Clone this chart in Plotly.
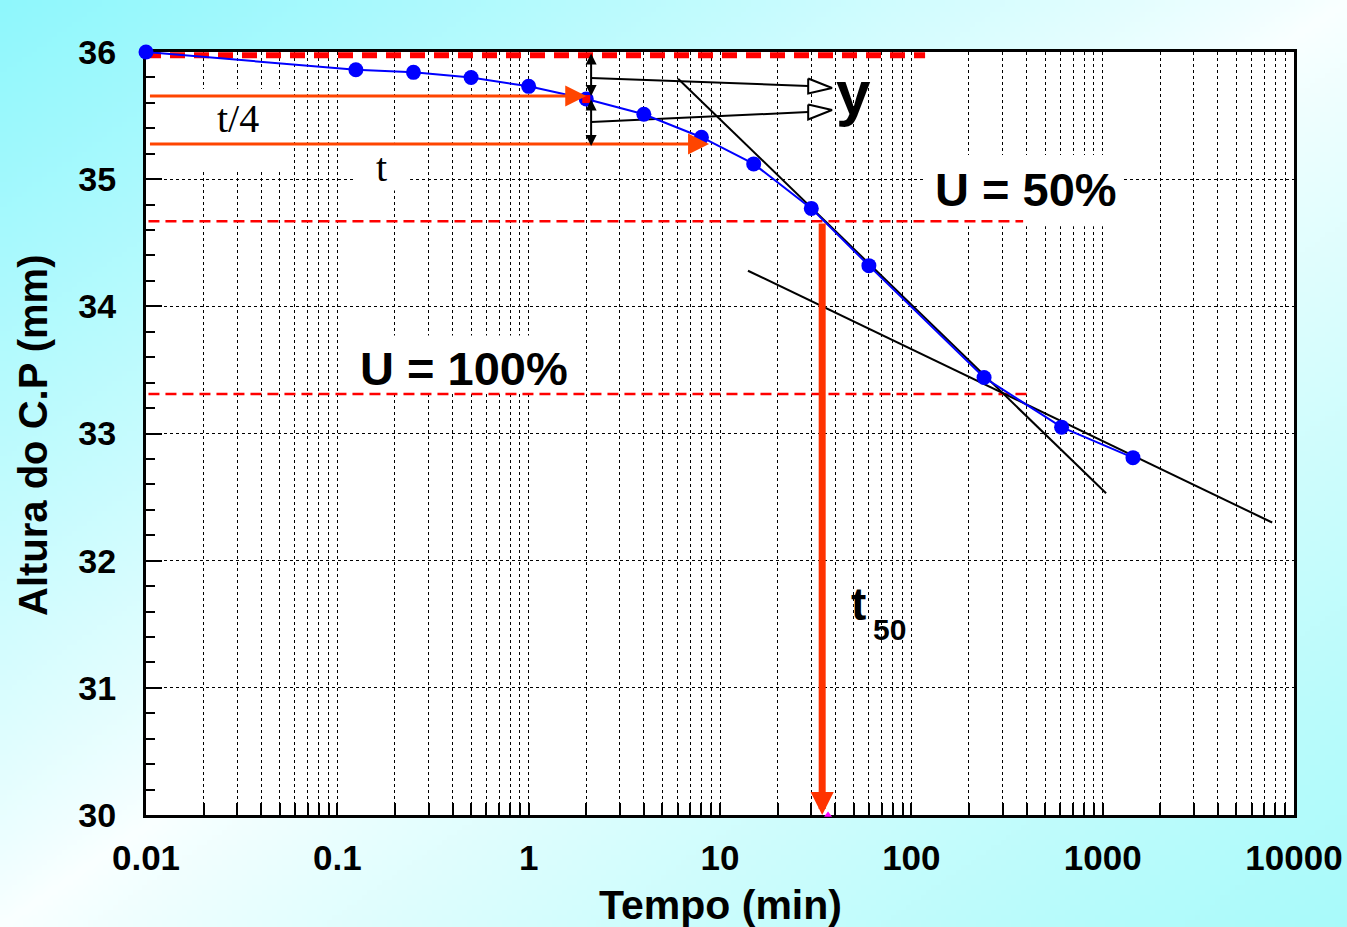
import math, zlib, struct, base64
import plotly.graph_objects as go

# ---------------- data ----------------
tempo_min = [0.01, 0.125, 0.25, 0.5, 1, 2, 4, 8, 15, 30, 60, 240, 610, 1440]
altura_mm = [36.0, 35.86, 35.84, 35.80, 35.73, 35.63, 35.51, 35.33, 35.12, 34.77, 34.32, 33.44, 33.05, 32.81]

x_tickvals = [m * 10 ** k for k in range(-2, 4) for m in range(1, 10)] + [10000]
x_ticktext = ["0.01" if v == 0.01 else "0.1" if v == 0.1 else str(int(v)) if v in (1, 10, 100, 1000, 10000) else ""
              for v in x_tickvals]
y_tickvals = [30, 31, 32, 33, 34, 35, 36]
y_ticktext = ["30", "31", "32", "33", "34", "35", "36"]

# construction lines
u0_x, u0_y = [0.01, 118], [35.975, 35.975]
u50_x, u50_y = [0.0103, 384], [34.67, 34.67]
u100_x, u100_y = [0.0103, 418], [33.31, 33.31]
tan1_x, tan1_y = [6.04, 1042], [35.79, 32.53]
tan2_x, tan2_y = [14.0, 7690], [34.28, 32.30]
yarrow1_x, yarrow1_y = [2.12, 28.9], [35.796, 35.733]
yarrow2_x, yarrow2_y = [2.12, 28.9], [35.45, 35.528]
head1_x, head1_y = [28.9, 28.9, 38.5, 28.9], [35.792, 35.674, 35.717, 35.792]
head2_x, head2_y = [28.9, 28.9, 38.5, 28.9], [35.587, 35.469, 35.544, 35.587]
t4_tail, t4_head, t4_h = 0.0103, 2.0, 35.654
t_tail, t_head, t_h = 0.0103, 8.77, 35.277
t50_x, t50_top, t50_bot = 34.2, 34.663, 30.0
dbl_x = 2.12
dbl1 = (36.0, 35.654)
dbl2 = (35.638, 35.26)

# white label boxes (x0, x1, y0, y1)
boxes = [(0.0118, 0.0533, 35.072, 35.709),
         (0.125, 0.240, 34.91, 35.29),
         (118, 1265, 34.63, 35.19),
         (0.1096, 1.90, 33.33, 33.77)]

# ---------------- background gradient ----------------
def gradient_png(w, h):
    cyan_tl = (143, 247, 252)
    cyan_br = (168, 250, 250)
    white = (250, 255, 255)
    rows = []
    for j in range(h):
        row = bytearray([0])
        for i in range(w):
            d = (i / (w - 1) + j / (h - 1)) / 2
            t = min(1.0, abs(d - 0.5) * 2) ** 0.85
            c = cyan_tl if d < 0.5 else cyan_br
            row += bytes(int(round(white[k] * (1 - t) + c[k] * t)) for k in range(3))
        rows.append(bytes(row))
    raw = b"".join(rows)

    def chunk(tag, data):
        return struct.pack(">I", len(data)) + tag + data + struct.pack(">I", zlib.crc32(tag + data) & 0xffffffff)

    png = (b"\x89PNG\r\n\x1a\n" + chunk(b"IHDR", struct.pack(">IIBBBBB", w, h, 8, 2, 0, 0, 0))
           + chunk(b"IDAT", zlib.compress(raw, 9)) + chunk(b"IEND", b""))
    return "data:image/png;base64," + base64.b64encode(png).decode()

W, H = 1347, 927
L, R, T, B = 146, 53, 52, 112
PW, PH = W - L - R, H - T - B

FONT = "Arial, Liberation Sans, sans-serif"
SERIF = "Times New Roman, Liberation Serif, serif"
ORANGE = "#ff4500"

fig = go.Figure()

for (x0, x1, y0, y1) in boxes:
    fig.add_trace(go.Scatter(x=[x0, x1, x1, x0, x0], y=[y0, y0, y1, y1, y0], mode="lines",
                             fill="toself", fillcolor="white", line=dict(width=0, color="white"),
                             hoverinfo="skip", showlegend=False))

fig.add_trace(go.Scatter(x=u0_x, y=u0_y, mode="lines",
                         line=dict(color="#ff0000", width=6, dash="15px,9px"), showlegend=False))
fig.add_trace(go.Scatter(x=u50_x, y=u50_y, mode="lines",
                         line=dict(color="#ff0000", width=2.5, dash="11px,6px"), showlegend=False))
fig.add_trace(go.Scatter(x=u100_x, y=u100_y, mode="lines",
                         line=dict(color="#ff0000", width=2.5, dash="11px,6px"), showlegend=False))

for xs, ys in [(tan1_x, tan1_y), (tan2_x, tan2_y), (yarrow1_x, yarrow1_y), (yarrow2_x, yarrow2_y)]:
    fig.add_trace(go.Scatter(x=xs, y=ys, mode="lines", line=dict(color="black", width=2), showlegend=False))
for xs, ys in [(head1_x, head1_y), (head2_x, head2_y)]:
    fig.add_trace(go.Scatter(x=xs, y=ys, mode="lines", fill="toself", fillcolor="white",
                             line=dict(color="black", width=2), showlegend=False))

fig.add_trace(go.Scatter(x=tempo_min, y=altura_mm, mode="lines+markers",
                         line=dict(color="#0000ff", width=2),
                         marker=dict(color="#0000ff", size=15), cliponaxis=False, showlegend=False))
fig.add_trace(go.Scatter(x=[t4_head], y=[altura_mm[tempo_min.index(2)]], mode="markers",
                         marker=dict(color="#ff0000", symbol="square", size=8), showlegend=False))
fig.add_trace(go.Scatter(x=[36.7], y=[30.0], mode="markers", cliponaxis=False,
                         marker=dict(color="#ff00ff", symbol="triangle-up", size=7), showlegend=False))

ann = []
lx = math.log10
# arrows
ann.append(dict(x=lx(t4_head), y=t4_h, ax=lx(t4_tail), ay=t4_h, axref="x", ayref="y", xref="x", yref="y",
                text="", showarrow=True, arrowhead=2, arrowsize=1.4, arrowwidth=3, arrowcolor=ORANGE))
ann.append(dict(x=lx(t_head), y=t_h, ax=lx(t_tail), ay=t_h, axref="x", ayref="y", xref="x", yref="y",
                text="", showarrow=True, arrowhead=2, arrowsize=1.4, arrowwidth=3, arrowcolor=ORANGE))
ann.append(dict(x=lx(t50_x), y=t50_bot, ax=lx(t50_x), ay=t50_top, axref="x", ayref="y", xref="x", yref="y",
                text="", showarrow=True, arrowhead=2, arrowsize=0.66, arrowwidth=7, arrowcolor="#ff3300"))
for (ya, yb) in [dbl1, dbl2]:
    ann.append(dict(x=lx(dbl_x), y=yb, ax=lx(dbl_x), ay=ya, axref="x", ayref="y", xref="x", yref="y",
                    text="", showarrow=True, arrowhead=2, startarrowhead=2, arrowside="end+start",
                    arrowsize=1.1, startarrowsize=1.1, arrowwidth=2, arrowcolor="black"))

# texts
def txt(x, y, s, size, family=FONT, bold=True, **kw):
    d = dict(x=lx(x), y=y, xref="x", yref="y", text=s, showarrow=False,
             xanchor="center", yanchor="middle",
             font=dict(family=family, size=size, color="black", weight="bold" if bold else "normal"))
    d.update(kw)
    return d

ann.append(txt(2.73, 36.17, "U = 0%", 47))
ann.append(txt(398, 34.915, "U = 50%", 47))
ann.append(txt(0.459, 33.515, "U = 100%", 47))
ann.append(txt(0.0303, 35.48, "t/4", 40, family=SERIF, bold=False))
ann.append(txt(0.171, 35.09, "t", 40, family=SERIF, bold=False))
ann.append(txt(49.7, 35.68, "y", 62))
ann.append(txt(52.7, 31.66, "t", 46))
ann.append(txt(76.6, 31.46, "50", 30))

# axis titles
ann.append(dict(x=(720 - L) / PW, y=(H - B - 905) / PH, xref="paper", yref="paper", showarrow=False,
                xanchor="center", yanchor="middle",
                text="Tempo (min)", font=dict(family=FONT, size=41, color="black", weight="bold")))
ann.append(dict(x=(33 - L) / PW, y=(H - B - 435) / PH, xref="paper", yref="paper", showarrow=False,
                xanchor="center", yanchor="middle",
                text="Altura do C.P (mm)", textangle=-90,
                font=dict(family=FONT, size=40, color="black", weight="bold")))

fig.update_layout(
    width=W, height=H, autosize=False,
    margin=dict(l=L, r=R, t=T, b=B, autoexpand=False),
    paper_bgcolor="white", plot_bgcolor="white",
    annotations=ann,
    images=[dict(source=gradient_png(270, 186), xref="paper", yref="paper",
                 x=-L / PW, y=1 + T / PH, sizex=W / PW, sizey=H / PH,
                 xanchor="left", yanchor="top", sizing="stretch", layer="below")],
    shapes=[dict(type="rect", xref="paper", yref="paper", x0=0, x1=1, y0=0, y1=1,
                 fillcolor="white", line=dict(width=0), layer="below")],
    showlegend=False,
)

fig.update_xaxes(type="log", range=[-2, 4], tickmode="array", tickvals=x_tickvals, ticktext=x_ticktext,
                 showgrid=True, gridcolor="black", griddash="dot", gridwidth=1.4,
                 showline=True, linecolor="black", linewidth=3, mirror=True,
                 ticks="inside", ticklen=12, tickwidth=2, tickcolor="black",
                 tickfont=dict(family=FONT, size=35, color="black", weight="bold"),
                 ticklabelstandoff=10, layer="below traces", zeroline=False, automargin=False)
fig.update_yaxes(range=[30, 36], tickmode="array", tickvals=y_tickvals, ticktext=y_ticktext,
                 showgrid=True, gridcolor="black", griddash="dot", gridwidth=1.4,
                 showline=True, linecolor="black", linewidth=3, mirror=True,
                 ticks="inside", ticklen=16, tickwidth=2, tickcolor="black",
                 minor=dict(dtick=0.2, ticks="inside", ticklen=9, tickwidth=2, tickcolor="black", showgrid=False),
                 tickfont=dict(family=FONT, size=34, color="black", weight="bold"),
                 ticklabelstandoff=20, layer="below traces", zeroline=False, automargin=False)

fig.write_html("out.html", config={"displayModeBar": False, "responsive": False},
               default_width="1347px", default_height="927px",
               post_script="document.body.style.margin='0';document.body.style.padding='0';"
                           "document.body.style.overflow='hidden';"
                           "document.documentElement.style.overflow='hidden';"
                           "document.documentElement.style.margin='0';")
